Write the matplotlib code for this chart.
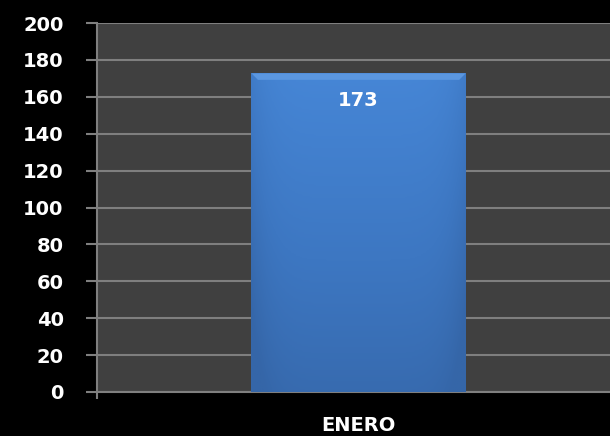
import numpy as np
import matplotlib.pyplot as plt
from matplotlib.colors import LinearSegmentedColormap

# data
categories = ["ENERO"]
values = [173]
y_ticks = [0, 20, 40, 60, 80, 100, 120, 140, 160, 180, 200]

fig = plt.figure(figsize=(6.10, 4.36), dpi=100, facecolor="black")
ax = fig.add_axes([0.159, 0.101, 0.856, 0.846])
ax.set_facecolor("#404040")

bar_width = 0.41
bars = ax.bar(range(len(values)), values, width=bar_width, color="#3f7cc8",
              edgecolor="none", zorder=3)

# gradient fill clipped to each bar (lighter at top, darker sides)
cmap = LinearSegmentedColormap.from_list("blu", ["#3566a8", "#3d77c2", "#4686d6"])
for b in bars:
    x0, w, h = b.get_x(), b.get_width(), b.get_height()
    yy = np.linspace(0, 1, 200)[:, None]
    xx = np.linspace(-1, 1, 200)[None, :]
    grad = yy * 0.85 + 0.15 - 0.35 * np.abs(xx) ** 6
    im = ax.imshow(grad, extent=[x0, x0 + w, 0, h], origin="lower",
                   cmap=cmap, vmin=0, vmax=1, aspect="auto", zorder=4)
    im.set_clip_path(b)
    # bevel at top
    ax.fill_between([x0, x0 + w * 0.03, x0 + w * 0.97, x0 + w],
                    [h, h - 3.5, h - 3.5, h], [h, h, h, h],
                    color="#5b97e0", lw=0, zorder=5)
    ax.text(x0 + w / 2, h - 15, str(h), color="white", fontsize=14,
            fontweight="bold", ha="center", va="center", zorder=6)

ax.set_xlim(-0.5, 0.5)
ax.set_ylim(0, 200)
ax.set_yticks(y_ticks)
ax.set_yticklabels([str(t) for t in y_ticks])
ax.yaxis.grid(True, color="#7f7f7f", linewidth=1.5, zorder=1)
ax.set_axisbelow(True)

ax.set_xticks([-0.5])
ax.set_xticklabels([""])
ax.set_xticks([0], minor=True)
ax.set_xticklabels(categories, minor=True)
ax.tick_params(axis="x", which="minor", length=0, pad=17, labelsize=14,
               labelcolor="white")
ax.tick_params(axis="x", which="major", length=5, color="#7f7f7f", width=1.5)
ax.tick_params(axis="y", length=8, color="#7f7f7f", width=1.5, pad=16,
               labelsize=14, labelcolor="white")
for lab in ax.get_yticklabels() + ax.get_xticklabels(minor=True):
    lab.set_fontweight("bold")

for s in ["top", "right"]:
    ax.spines[s].set_visible(False)
for s in ["left", "bottom"]:
    ax.spines[s].set_color("#7f7f7f")
    ax.spines[s].set_linewidth(1.5)

fig.savefig("out.png", dpi=100, facecolor="black")
